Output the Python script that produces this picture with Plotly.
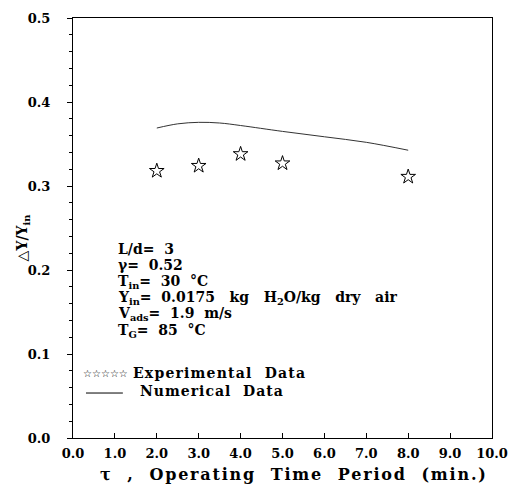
import plotly.graph_objects as go

exp_x = [2.0, 3.0, 4.0, 5.0, 8.0]
exp_y = [0.318, 0.324, 0.338, 0.327, 0.311]
num_x = [2.0, 2.5, 3.0, 3.5, 4.0, 5.0, 6.0, 7.0, 8.0]
num_y = [0.369, 0.374, 0.3758, 0.375, 0.372, 0.365, 0.3586, 0.352, 0.3426]

x_ticks = [0, 1, 2, 3, 4, 5, 6, 7, 8, 9, 10]
y_ticks = [0.0, 0.1, 0.2, 0.3, 0.4, 0.5]

FONT = "DejaVu Serif"
fnt = dict(family=FONT, size=13, color="black", weight="bold")


def spaced(txt, px):
    return '<span style="letter-spacing:%spx">%s</span>' % (px, txt)


fig = go.Figure()
fig.add_trace(go.Scatter(x=num_x, y=num_y, mode="lines",
                         line=dict(color="#333", width=1, shape="spline"),
                         showlegend=False))
fig.add_trace(go.Scatter(x=exp_x, y=exp_y, mode="markers",
                         marker=dict(symbol="star-open", size=11, color="black",
                                     line=dict(width=1, color="black")),
                         showlegend=False))

params = [
    "L/d=  3",
    "γ=  0.52",
    "T<sub>in</sub>=  30  °C",
    "Y<sub>in</sub>=  0.0175   kg   H<sub>2</sub>O/kg   dry   air",
    "V<sub>ads</sub>=  1.9  m/s",
    "T<sub>G</sub>=  85  °C",
]
y0 = 0.2255
dy = 0.0196
for i, t in enumerate(params):
    fig.add_annotation(x=1.02, y=y0 - i * dy, xref="x", yref="y", text=t,
                       showarrow=False, xanchor="left", yanchor="middle",
                       font=dict(family=FONT, size=14, color="black", weight="bold"))

# legend block
fig.add_annotation(x=0.19, y=(437.7 - 372) / 853.4, xref="x", yref="y",
                   text="☆☆☆☆☆", showarrow=False, xanchor="left", yanchor="middle",
                   font=dict(family="DejaVu Sans", size=10, color="black"))
fig.add_annotation(x=1.38, y=(437.7 - 372) / 853.4, xref="x", yref="y",
                   text=spaced("Experimental  Data", 1.2), showarrow=False,
                   xanchor="left", yanchor="middle",
                   font=dict(family=FONT, size=14, color="black", weight="bold"))
fig.add_annotation(x=1.54, y=(437.7 - 390) / 853.4, xref="x", yref="y",
                   text=spaced("Numerical  Data", 1.0), showarrow=False,
                   xanchor="left", yanchor="middle",
                   font=dict(family=FONT, size=14, color="black", weight="bold"))
fig.add_shape(type="line", xref="x", yref="y", x0=0.31, x1=1.19,
              y0=(437.7 - 392) / 853.4, y1=(437.7 - 392) / 853.4,
              line=dict(color="black", width=1))

# y-axis title
fig.add_annotation(x=-0.12, y=0.477, xref="paper", yref="paper",
                   text="△Y/Y<sub>in</sub>", textangle=-90, showarrow=False,
                   xanchor="center", yanchor="middle",
                   font=dict(family=FONT, size=14, color="black", weight="bold"))

# x-axis title
fig.add_annotation(x=0.527, y=-0.087, xref="paper", yref="paper",
                   text=spaced("τ  ,  Operating  Time  Period  (min.)", 1.8),
                   showarrow=False, xanchor="center", yanchor="middle",
                   font=dict(family=FONT, size=16, color="black", weight="bold"))

fig.update_layout(
    width=519, height=490,
    margin=dict(l=73, r=22, t=11, b=52),
    paper_bgcolor="white", plot_bgcolor="white",
    font=fnt,
    showlegend=False,
    xaxis=dict(range=[0, 10], tickvals=x_ticks, tickformat=".1f",
               ticks="inside", ticklen=5, tickcolor="black",
               ticklabelstandoff=3,
               showline=True, linecolor="black", linewidth=1, mirror=True,
               showgrid=False, zeroline=False),
    yaxis=dict(range=[0, 0.5], tickvals=y_ticks, tickformat=".1f",
               ticks="outside", ticklen=5, tickcolor="black",
               ticklabelstandoff=14,
               minor=dict(dtick=0.02, ticks="outside", ticklen=3, tickcolor="black"),
               showline=True, linecolor="black", linewidth=1, mirror=True,
               showgrid=False, zeroline=False),
)

fig.write_html("out.html")
